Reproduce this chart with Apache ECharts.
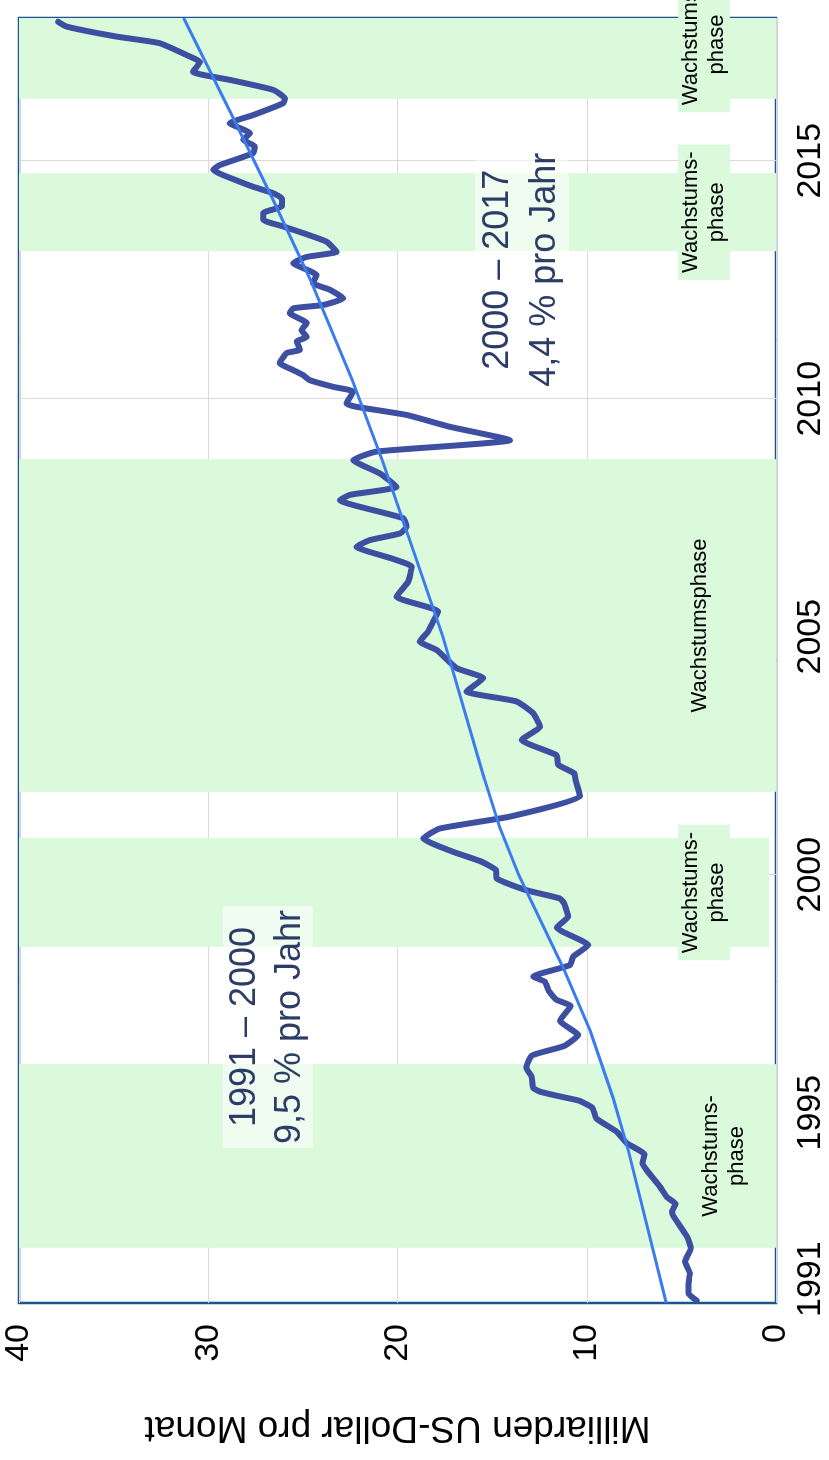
<!DOCTYPE html>
<html>
<head>
<meta charset="utf-8">
<script src="https://cdn.jsdelivr.net/npm/echarts@6/dist/echarts.min.js"></script>
<style>
html, body { margin: 0; padding: 0; width: 829px; height: 1460px; overflow: hidden; background: #fff; }
/* chart is drawn landscape, then turned a quarter left like the original */
#chart { position: absolute; left: 0; top: 0; width: 1460px; height: 829px;
  transform-origin: 0 0; transform: translate(0, 1460px) rotate(-90deg); }
</style>
</head>
<body>
<div id="chart"></div>
<script>
var dates = [
  1991.05, 1991.2, 1991.4, 1991.62, 1991.87, 1992.15, 1992.38, 1992.83, 1992.92,
  1993.08, 1993.23, 1993.44, 1993.79, 1993.94, 1994.12, 1994.36, 1994.6, 1994.88,
  1995.1, 1995.25, 1995.33, 1995.44, 1995.52, 1995.75, 1995.95, 1996.2, 1996.4, 1996.63, 1996.93,
  1997.24, 1997.37, 1997.55, 1997.75, 1997.86, 1998.1, 1998.28, 1998.52, 1998.89,
  1999.12, 1999.4, 1999.5, 1999.68, 1999.92, 2000.1, 2000.28, 2000.48, 2000.76, 2000.97,
  2001.22, 2001.64, 2001.8, 2002.0, 2002.13, 2002.31, 2002.51, 2002.83,
  2003.11, 2003.39, 2003.64, 2003.85, 2004.13, 2004.34, 2004.72, 2004.9,
  2005.11, 2005.25, 2005.53, 2005.84, 2006.16, 2006.47, 2006.63, 2006.89,
  2007.03, 2007.17, 2007.31, 2007.49, 2007.87, 2007.98, 2008.15, 2008.43, 2008.71, 2008.89,
  2009.13, 2009.41, 2009.66, 2009.83, 2009.9, 2010.15, 2010.25, 2010.39, 2010.5, 2010.6, 2010.75, 2010.96,
  2011.03, 2011.2, 2011.3, 2011.44, 2011.59, 2011.8, 2011.9, 2011.97,
  2012.11, 2012.29, 2012.43, 2012.6, 2012.85, 2012.98,
  2013.09, 2013.3, 2013.48, 2013.62, 2013.76, 2013.9,
  2014.05, 2014.2, 2014.32, 2014.45, 2014.56, 2014.81, 2014.91,
  2015.16, 2015.3, 2015.44, 2015.58, 2015.79, 2015.96,
  2016.21, 2016.31, 2016.49, 2016.7, 2016.87,
  2017.08, 2017.19, 2017.47, 2017.61, 2017.82, 2017.92
];
var exportValues = [
  4.19, 4.63, 4.63, 4.55, 4.81, 4.5, 4.68, 5.43, 5.5,
  5.3, 5.78, 6.13, 6.83, 7.05, 6.95, 7.89, 8.42, 9.5,
  9.7, 10.4, 11.3, 12.47, 12.83, 12.91, 13.2, 12.9, 11.2, 10.45, 11.42,
  10.85, 11.59, 12.0, 12.21, 12.83, 10.89, 10.71, 9.92, 11.59,
  10.98, 11.2, 11.42, 13.25, 14.76, 14.8, 15.6, 17.06, 18.64, 17.76,
  14.06, 10.36, 10.45, 10.6, 10.66, 11.51, 11.59, 13.44,
  12.47, 12.83, 13.71, 16.35, 15.47, 16.88, 17.93, 18.82,
  18.38, 18.2, 17.85, 20.05, 19.43, 19.25, 20.2, 22.16,
  21.46, 19.87, 19.52, 19.7, 23.04, 22.52, 20.05, 20.93, 22.34, 21.1,
  14.06, 17.23, 19.52, 22.16, 22.69, 22.34, 23.4, 24.63, 25.0, 25.5, 26.22, 25.86,
  25.16, 25.33, 24.8, 25.07, 24.8, 25.69, 25.51, 23.93,
  22.87, 23.57, 24.46, 24.28, 25.51, 24.8,
  23.22, 23.75, 24.98, 26.04, 27.1, 27.1,
  26.1, 26.1, 26.57, 27.6, 28.33, 29.74, 29.39,
  27.63, 27.54, 28.15, 27.8, 28.86, 27.63,
  26.04, 25.95, 26.57, 28.86, 30.8,
  30.44, 30.97, 32.56, 34.85, 37.49, 37.93
];

var trendYears = [1991, 1994.2, 1995.3, 1996.7, 1998, 1999, 2000, 2001, 2002, 2005, 2006.5, 2008.7, 2010.4, 2012.5, 2014.2, 2016, 2018];
var trendValues = [5.8, 7.8, 8.6, 9.8, 11.2, 12.4, 13.6, 14.6, 15.4, 17.6, 18.9, 20.8, 22.4, 24.6, 26.6, 28.8, 31.3];

var phaseStart = [1992.16, 1998.48, 2001.74, 2013.1, 2016.3];
var phaseEnd = [1996.02, 2000.77, 2008.73, 2014.74, 2018];
var phaseLabels = ['Wachstums-\nphase', 'Wachstums-\nphase', 'Wachstumsphase', 'Wachstums-\nphase', 'Wachstums-\nphase'];

var yearTicks = [1991, 1995, 2000, 2005, 2010, 2015];
var growthNotes = ['1991 – 2000\n9,5 % pro Jahr', '2000 – 2017\n4,4 % pro Jahr'];

var font = "'Liberation Sans', Arial, sans-serif";
var green = '#dbf9db';
var noteAt = [[1996.8, 26.85], [2012.71, 13.42]];
var labelGap = [26, 39, 63, 46, 46];
var labelShift = [[0, 0], [0, 0], [0, 0], [0, 0], [14, 0]];

function zip(a, b) {
    return a.map(function (v, i) { return [v, b[i]]; });
}

var bandData = phaseStart.map(function (s, i) {
    var from = {
        xAxis: s,
        label: { formatter: phaseLabels[i], distance: labelGap[i], offset: labelShift[i] }
    };
    var to = { xAxis: phaseEnd[i] };
    if (i === 1) { from.yAxis = 0.37; to.yAxis = 40.37; }
    return [from, to];
});

var notes = growthNotes.map(function (t, i) {
    return {
        coord: noteAt[i],
        symbol: 'rect',
        symbolSize: 1,
        itemStyle: { color: 'rgba(0,0,0,0)' },
        label: {
            show: true, position: 'inside', formatter: t,
            fontFamily: font, fontSize: 36, lineHeight: i === 0 ? 45 : 47,
            color: '#2b3d66', align: 'center',
            backgroundColor: 'rgba(255,255,255,0.55)', padding: [0, 4]
        }
    };
});

var option = {
    animation: false,
    backgroundColor: '#fff',
    grid: {
        left: 157, right: 18, top: 19, bottom: 53,
        show: true, borderColor: '#1a5590', borderWidth: 2.5
    },
    xAxis: {
        type: 'value', min: 1991, max: 2018,
        axisLine: { show: false },
        axisTick: { show: false, customValues: yearTicks.slice(1) },
        splitLine: { show: true, lineStyle: { color: '#d9d9d9', width: 1 } },
        axisLabel: {
            customValues: yearTicks.map(function (y) { return y === 1991 ? y + 0.5 : y; }),
            formatter: function (v) { return String(Math.floor(v)); },
            fontFamily: font, fontSize: 34, color: '#000', margin: 18
        }
    },
    yAxis: {
        type: 'value', min: 0, max: 40, interval: 10,
        axisLine: { show: false },
        axisTick: { show: false },
        splitLine: { lineStyle: { color: '#d9d9d9', width: 1 } },
        axisLabel: { fontFamily: font, fontSize: 34, color: '#000', margin: 21 },
        name: 'Milliarden US-Dollar pro Monat',
        nameLocation: 'middle', nameRotate: 90, nameGap: 106,
        nameTextStyle: { fontFamily: font, fontSize: 37, color: '#000' }
    },
    series: [{
        type: 'line', data: [], z: -1, clip: false, silent: true,
        markArea: {
            silent: true,
            itemStyle: { color: green },
            label: {
                show: true, position: 'insideBottom',
                fontFamily: font, fontSize: 22, lineHeight: 26, color: '#000',
                align: 'center', backgroundColor: green, padding: [0, 7]
            },
            data: bandData
        },
        markPoint: { silent: true, data: notes }
    }, {
        type: 'line', data: zip(dates, exportValues), z: 3,
        symbol: 'none', smooth: 0.15,
        lineStyle: { color: '#3d4fa1', width: 6, cap: 'round', join: 'round' }
    }, {
        type: 'line', data: zip(trendYears, trendValues), z: 4,
        symbol: 'none',
        lineStyle: { color: '#3a7cf0', width: 3 }
    }]
};

echarts.init(document.getElementById('chart')).setOption(option);
</script>
</body>
</html>
